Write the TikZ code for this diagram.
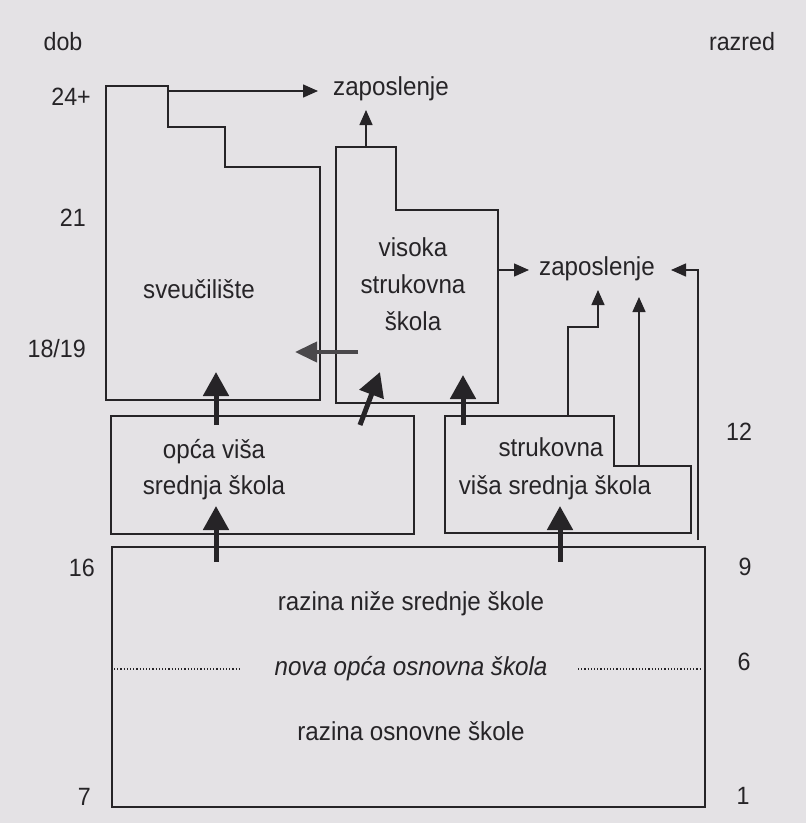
\documentclass[tikz,border=0pt]{standalone}
\usepackage{fontspec}
\setmainfont[FakeStretch=0.93]{Liberation Sans}
\usetikzlibrary{arrows.meta}
\definecolor{paper}{HTML}{E4E2E5}
\definecolor{ink}{HTML}{262427}
\definecolor{greyink}{HTML}{4A484B}
\begin{document}
\begin{tikzpicture}[x=1pt,y=-1pt,
  shape line/.style={draw=ink, line width=1.5pt, line join=miter},
  thinarrow/.style={draw=ink, line width=1.5pt, -{Triangle[width=13pt,length=15pt]}},
  thickarrow/.style={draw=ink, line width=5pt, -{Triangle[width=25pt,length=24pt]}},
  greyarrow/.style={draw=greyink, line width=4pt, -{Triangle[width=20pt,length=22pt]}},
  lbl/.style={font=\fontsize{26}{30}\selectfont, text=ink, inner sep=0pt, align=center},
  num/.style={font=\fontsize{25}{28}\selectfont, text=ink, inner sep=0pt}]
\fill[paper] (0,0) rectangle (806,823);
\useasboundingbox (0,0) rectangle (806,823);

% --- shapes ---
\draw[shape line] (106,86) -- (168,86) -- (168,127) -- (225,127) -- (225,167) -- (320,167) -- (320,400) -- (106,400) -- cycle;
\draw[shape line] (336,147) -- (396,147) -- (396,210) -- (498,210) -- (498,403) -- (336,403) -- cycle;
\draw[shape line] (111,416) rectangle (414,534);
\draw[shape line] (445,416) -- (614,416) -- (614,466) -- (691,466) -- (691,533) -- (445,533) -- cycle;
\draw[shape line] (112,547) rectangle (705,807);
\draw[ink, line width=1.1pt, dash pattern=on 1.2pt off 2pt] (114,669) -- (239,669);
\draw[ink, line width=1.1pt, dash pattern=on 1.2pt off 2pt] (578,669) -- (702,669);

% --- texts ---
\node[lbl] (zap1) at (391,89) {zaposlenje};
\node[lbl] (zap2) at (597,269) {zaposlenje};
\node[lbl] (sveu) at (199,289) {sveučilište};
\node[lbl, font=\fontsize{26}{37}\selectfont] (vss) at (413,284) {visoka\\strukovna\\škola};
\node[lbl, font=\fontsize{26}{36}\selectfont] (ovss) at (214,470) {opća viša\\srednja škola};
\node[lbl] (svss1) at (551,447) {strukovna};
\node[lbl] (svss2) at (555,488) {viša srednja škola};
\node[lbl] (nss) at (411,604) {razina niže srednje škole};
\node[lbl, font=\fontsize{26}{30}\selectfont\itshape] (nos) at (411,669) {nova opća osnovna škola};
\node[lbl] (os) at (411,731) {razina osnovne škole};

\node[num] (dob) at (63,42) {dob};
\node[num, anchor=east] (a24) at (91,97) {24+};
\node[num, anchor=east] (a21) at (86,218) {21};
\node[num, anchor=east] (a18) at (86,349) {18/19};
\node[num, anchor=east] (a16) at (95,568) {16};
\node[num, anchor=east] (a7) at (91,797) {7};
\node[num] (razred) at (742,42) {razred};
\node[num] (r12) at (739,432) {12};
\node[num] (r9) at (745,567) {9};
\node[num] (r6) at (744,662) {6};
\node[num] (r1) at (743,796) {1};

% --- connector coordinates ---
\coordinate (s1) at (168,91);
\coordinate (t1) at (318,91);
\coordinate (s2) at (366,147);
\coordinate (t2) at (366,110);
\coordinate (s3) at (498,270);
\coordinate (t3) at (529,270);
\coordinate (s4) at (568,416);
\coordinate (b4) at (568,327);
\coordinate (c4) at (598,327);
\coordinate (t4) at (598,290);
\coordinate (s5) at (639,466);
\coordinate (t5) at (639,297);
\coordinate (s6) at (698,540);
\coordinate (b6) at (698,270);
\coordinate (t6) at (671,270);

\draw[thinarrow] (s1) -- (t1);
\draw[thinarrow] (s2) -- (t2);
\draw[thinarrow] (s3) -- (t3);
\draw[thinarrow] (s4) -- (b4) -- (c4) -- (t4);
\draw[thinarrow] (s5) -- (t5);
\draw[thinarrow] (s6) -- (b6) -- (t6);

% thick arrows
\coordinate (k1s) at (216,562);
\coordinate (k1t) at (216,506);
\coordinate (k2s) at (560,562);
\coordinate (k2t) at (560,506);
\coordinate (k3s) at (216,425);
\coordinate (k3t) at (216,372);
\coordinate (k4s) at (360,425);
\coordinate (k4t) at (380,372);
\coordinate (k5s) at (463,425);
\coordinate (k5t) at (463,375);
\coordinate (g1s) at (358,352);
\coordinate (g1t) at (295,352);
\draw[thickarrow] (k1s) -- (k1t);
\draw[thickarrow] (k2s) -- (k2t);
\draw[thickarrow] (k3s) -- (k3t);
\draw[thickarrow] (k4s) -- (k4t);
\draw[thickarrow] (k5s) -- (k5t);
\draw[greyarrow] (g1s) -- (g1t);
\end{tikzpicture}
\end{document}
